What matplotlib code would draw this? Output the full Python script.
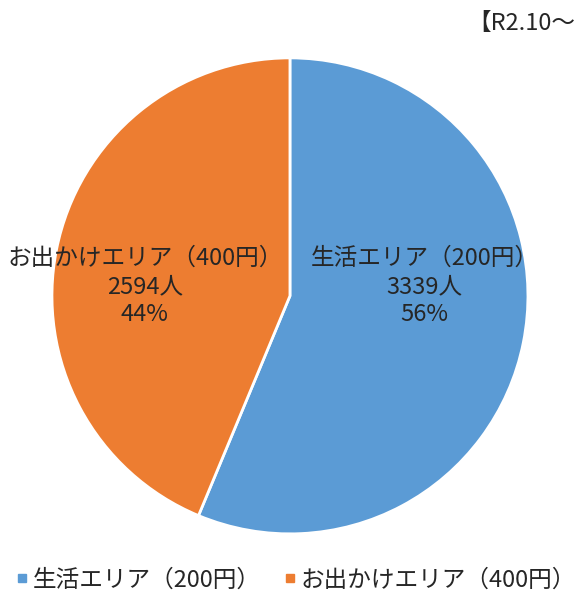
import matplotlib
matplotlib.use("Agg")
import matplotlib.pyplot as plt
from matplotlib.lines import Line2D

plt.rcParams['font.family'] = ['Noto Sans CJK JP', 'DejaVu Sans']

categories = ['生活エリア（200円）', 'お出かけエリア（400円）']
counts = [3339, 2594]
percents = [56, 44]
colors = ['#5B9BD5', '#ED7D31']
title_text = '【R2.10～'

fig = plt.figure(figsize=(5.78, 5.99), dpi=100)
ax = fig.add_axes([0.0899, 0.1087, 0.8235, 0.7947])
wedges, _ = ax.pie(counts, colors=colors, startangle=90, counterclock=False,
                   radius=1.0, wedgeprops=dict(edgecolor='white', linewidth=2))
ax.set_xlim(-1, 1)
ax.set_ylim(-1, 1)
ax.set_aspect('equal')
ax.axis('off')

label_pos = [(0.565, 0.04), (-0.61, 0.04)]
for (x, y), cat, n, p in zip(label_pos, categories, counts, percents):
    ax.text(x, y, f'{cat}\n{n}人\n{p}%', ha='center', va='center',
            fontsize=17, color='#262626', linespacing=1.3)

fig.text(467/578, 1 - 24/599, title_text, ha='left', va='center', fontsize=17, color='#262626')

handles = [Line2D([0], [0], marker='s', linestyle='none', markersize=6,
                  markerfacecolor=c, markeredgecolor=c) for c in colors]
fig.legend(handles, categories, loc='center', bbox_to_anchor=(0.51, 1 - 580/599),
           ncol=2, frameon=False, fontsize=17, handletextpad=0.1, columnspacing=0.9,
           labelcolor='#262626', handlelength=0.7)

fig.savefig('out.png', dpi=100)
